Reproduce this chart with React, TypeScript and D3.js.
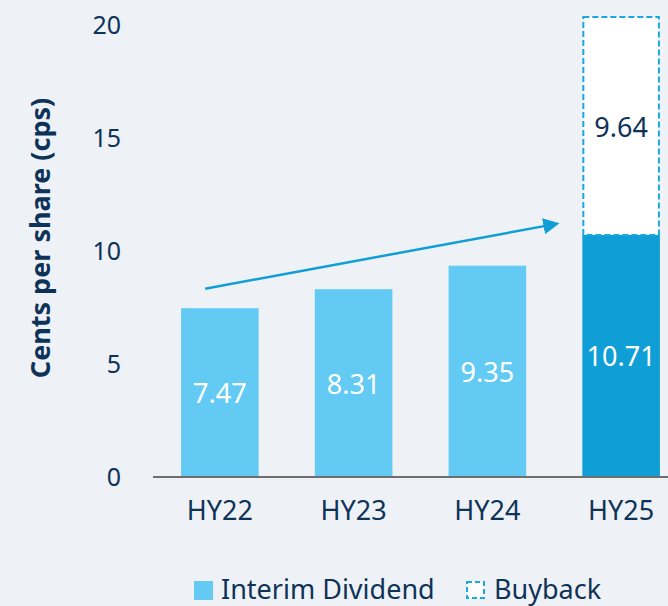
import React, { useEffect, useRef } from 'react';
import * as d3 from 'd3';

const categories = ['HY22', 'HY23', 'HY24', 'HY25'];
const dividend = [7.47, 8.31, 9.35, 10.71];
const buyback = [0, 0, 0, 9.64];
const yTicks = [0, 5, 10, 15, 20];
const legendLabels = ['Interim Dividend', 'Buyback'];

const W = 668;
const H = 606;
const BG = '#EEF2F6';
const NAVY = '#0E3359';
const LIGHT = '#63CBF3';
const DARK = '#0F9FD6';
const FONT = "'Noto Sans', 'Open Sans', sans-serif";

export default function App() {
  const svgRef = useRef<SVGSVGElement>(null);

  useEffect(() => {
    document.body.style.margin = '0';
    document.body.style.background = BG;
    if (!svgRef.current) return;
    const svg = d3.select(svgRef.current);
    svg.selectAll('*').remove();

    const x = d3.scaleBand().domain(categories).range([153, 688]).paddingInner(0.42).paddingOuter(0.21);
    const y = d3.scaleLinear().domain([0, 20]).range([477, 25]);
    const bw = x.bandwidth();

    svg.append('rect').attr('width', W).attr('height', H).attr('fill', BG);

    // y tick labels
    svg.append('g')
      .selectAll('text')
      .data(yTicks)
      .join('text')
      .attr('x', 121)
      .attr('y', d => y(d))
      .attr('dy', '0.35em')
      .attr('text-anchor', 'end')
      .attr('font-family', FONT)
      .attr('font-size', 25)
      .attr('fill', NAVY)
      .text(d => d);

    svg.append('text')
      .attr('transform', `translate(50,${y(10) - 13}) rotate(-90)`)
      .attr('text-anchor', 'middle')
      .attr('font-family', FONT)
      .attr('font-weight', 'bold')
      .attr('font-size', 27)
      .attr('fill', NAVY)
      .text('Cents per share (cps)');

    // dividend bars
    svg.append('g')
      .selectAll('rect')
      .data(categories)
      .join('rect')
      .attr('x', d => x(d)!)
      .attr('width', bw)
      .attr('y', (d, i) => y(dividend[i]))
      .attr('height', (d, i) => y(0) - y(dividend[i]))
      .attr('fill', (d, i) => (i === categories.length - 1 ? DARK : LIGHT));

    // buyback bars
    categories.forEach((c, i) => {
      if (!buyback[i]) return;
      const top = y(dividend[i] + buyback[i]);
      const bottom = y(dividend[i]);
      svg.append('rect')
        .attr('x', x(c)! + 1)
        .attr('width', bw - 2)
        .attr('y', top)
        .attr('height', bottom - top)
        .attr('fill', '#fff')
        .attr('stroke', '#1AA8E0')
        .attr('stroke-width', 2)
        .attr('stroke-dasharray', '6,3');
      svg.append('text')
        .attr('x', x(c)! + bw / 2)
        .attr('y', (top + bottom) / 2 + 2)
        .attr('dy', '0.35em')
        .attr('text-anchor', 'middle')
        .attr('font-family', FONT)
        .attr('font-size', 27)
        .attr('fill', NAVY)
        .text(buyback[i].toFixed(2));
    });

    // dividend labels
    svg.append('g')
      .selectAll('text')
      .data(categories)
      .join('text')
      .attr('x', d => x(d)! + bw / 2)
      .attr('y', (d, i) => (y(0) + y(dividend[i])) / 2 + 1)
      .attr('dy', '0.35em')
      .attr('text-anchor', 'middle')
      .attr('font-family', FONT)
      .attr('font-size', 27)
      .attr('fill', '#fff')
      .text((d, i) => dividend[i].toFixed(2));

    // x axis
    svg.append('line')
      .attr('x1', 153).attr('x2', W)
      .attr('y1', y(0)).attr('y2', y(0))
      .attr('stroke', '#6E6E6E').attr('stroke-width', 2);

    svg.append('g')
      .selectAll('text')
      .data(categories)
      .join('text')
      .attr('x', d => x(d)! + bw / 2)
      .attr('y', 511)
      .attr('dy', '0.35em')
      .attr('text-anchor', 'middle')
      .attr('font-family', FONT)
      .attr('font-size', 27)
      .attr('fill', NAVY)
      .text(d => d);

    // growth arrow
    const defs = svg.append('defs');
    defs.append('marker')
      .attr('id', 'arrowhead')
      .attr('viewBox', '0 0 10 10')
      .attr('refX', 8).attr('refY', 5)
      .attr('markerWidth', 6.5).attr('markerHeight', 6.5)
      .attr('markerUnits', 'strokeWidth')
      .attr('orient', 'auto')
      .append('path')
      .attr('d', 'M0,0L10,5L0,10Z')
      .attr('fill', DARK);

    svg.append('line')
      .attr('x1', x('HY22')! + bw * 0.31)
      .attr('y1', y(8.33))
      .attr('x2', x('HY25')! - 26)
      .attr('y2', y(11.2))
      .attr('stroke', DARK)
      .attr('stroke-width', 2.5)
      .attr('marker-end', 'url(#arrowhead)');

    // legend
    const lg = svg.append('g').attr('font-family', FONT).attr('font-size', 27).attr('fill', NAVY);
    lg.append('rect').attr('x', 194).attr('y', 581).attr('width', 19).attr('height', 19).attr('fill', LIGHT);
    lg.append('text').attr('x', 221).attr('y', 599).text(legendLabels[0]);
    lg.append('rect').attr('x', 467).attr('y', 582).attr('width', 17).attr('height', 16)
      .attr('fill', '#fff').attr('stroke', '#1AA8E0').attr('stroke-width', 2).attr('stroke-dasharray', '5,3');
    lg.append('text').attr('x', 494).attr('y', 599).text(legendLabels[1]);
  }, []);

  return <svg ref={svgRef} width={W} height={H} style={{ display: 'block' }} />;
}
